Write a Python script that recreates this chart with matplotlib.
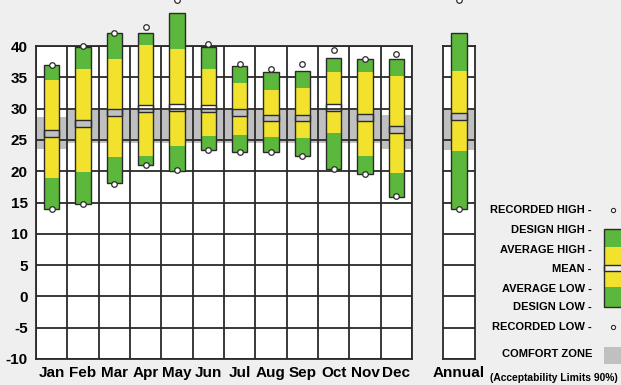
import numpy as np
import matplotlib
matplotlib.use("Agg")
import matplotlib.pyplot as plt
from matplotlib.patches import Rectangle

plt.rcParams['font.family'] = ['Liberation Sans', 'DejaVu Sans']
plt.rcParams['font.weight'] = 'bold'

months = ['Jan', 'Feb', 'Mar', 'Apr', 'May', 'Jun', 'Jul', 'Aug', 'Sep', 'Oct', 'Nov', 'Dec']

# monthly values, deg C (last entry of each list = Annual)
recorded_high = [37.0, 40.0, 42.0, 43.1, 47.4, 40.3, 37.2, 36.3, 37.1, 39.4, 38.0, 38.8, 47.4]
design_high = [37.0, 39.9, 42.0, 42.0, 45.2, 39.8, 36.8, 35.9, 36.0, 38.1, 37.9, 37.9, 42.0]
average_high = [34.5, 36.3, 38.0, 40.2, 39.5, 36.4, 34.1, 33.0, 33.3, 35.9, 35.9, 35.2, 36.0]
mean = [26.0, 27.6, 29.4, 30.0, 30.2, 30.0, 29.4, 28.5, 28.5, 30.2, 28.6, 26.6, 28.8]
average_low = [18.9, 19.9, 22.2, 22.5, 24.1, 25.6, 25.8, 25.4, 25.3, 26.1, 22.4, 19.7, 23.2]
design_low = [13.9, 14.8, 18.1, 21.0, 20.1, 23.4, 23.0, 23.0, 22.4, 20.3, 19.6, 15.9, 13.9]
recorded_low = [14.0, 14.8, 18.0, 21.0, 20.2, 23.4, 23.0, 23.0, 22.4, 20.3, 19.6, 16.0, 14.0]

# comfort zone (acceptability limits 90%)
comfort_high = [28.7, 29.8, 29.8, 29.8, 29.8, 29.8, 29.8, 29.8, 29.8, 29.8, 29.8, 28.9, 30.0]
comfort_low = [23.6, 24.5, 24.5, 24.5, 24.5, 24.5, 24.5, 24.5, 24.5, 24.5, 24.5, 23.5, 23.4]

GREEN = '#5cb83c'
YELLOW = '#f2e22e'
ZONE = '#c0c0c0'
BG = '#efefef'
EDGE = '#2a2a2a'
W = 621
H = 385

fig = plt.figure(figsize=(W / 100, H / 100), dpi=100, facecolor=BG)


def px(x, y):
    return x / W, 1 - y / H


def draw_panel(ax, xs, idx):
    ax.set_facecolor('white')
    ax.set_ylim(-10, 40)
    ax.set_yticks(range(-10, 41, 5))
    ax.grid(axis='y', color=EDGE, lw=1.3, zorder=2)
    ax.set_axisbelow(False)
    for s in ax.spines.values():
        s.set_color(EDGE)
        s.set_linewidth(1.3)
    ax.tick_params(length=0)
    bw = 0.48
    gap = 0.55
    for x, i in zip(xs, idx):
        ax.bar(x, comfort_high[i] - comfort_low[i], bottom=comfort_low[i], width=1.0,
               color=ZONE, lw=0, zorder=1)
        ax.bar(x, average_low[i] - design_low[i], bottom=design_low[i], width=bw,
               color=GREEN, lw=0, zorder=3, clip_on=False)
        ax.bar(x, design_high[i] - average_high[i], bottom=average_high[i], width=bw,
               color=GREEN, lw=0, zorder=3, clip_on=False)
        ax.bar(x, mean[i] - gap - average_low[i], bottom=average_low[i], width=bw,
               color=YELLOW, lw=0, zorder=3, clip_on=False)
        ax.bar(x, average_high[i] - mean[i] - gap, bottom=mean[i] + gap, width=bw,
               color=YELLOW, lw=0, zorder=3, clip_on=False)
        ax.bar(x, 2 * gap, bottom=mean[i] - gap, width=bw, fill=False,
               edgecolor=EDGE, lw=1.0, zorder=4, clip_on=False)
        ax.bar(x, design_high[i] - design_low[i], bottom=design_low[i], width=bw, fill=False,
               edgecolor=EDGE, lw=1.0, zorder=4, clip_on=False)
    hi = [recorded_high[i] for i in idx]
    lo = [recorded_low[i] for i in idx]
    ax.scatter(xs, hi, s=16, facecolor='white', edgecolor=EDGE, lw=0.9, zorder=6, clip_on=False)
    ax.scatter(xs, lo, s=16, facecolor='white', edgecolor=EDGE, lw=0.9, zorder=6, clip_on=False)


# monthly panel
ax = fig.add_axes([36 / W, 26 / H, 376 / W, 313 / H])
xs = np.arange(12) + 0.5
draw_panel(ax, xs, range(12))
ax.set_xlim(0, 12)
ax.set_xticks(range(13))
ax.set_xticklabels([])
ax.grid(axis='x', color=EDGE, lw=1.3, zorder=2)
ax.set_xticks(xs, minor=True)
ax.set_xticklabels(months, minor=True, fontsize=11, fontweight='bold')
ax.tick_params(which='both', length=0)
ax.tick_params(axis='x', which='minor', pad=5)
ax.set_yticklabels([str(v) for v in range(-10, 41, 5)], fontsize=11, fontweight='bold')
ax.tick_params(axis='y', pad=6)

# annual panel
ax2 = fig.add_axes([443 / W, 26 / H, 32 / W, 313 / H])
draw_panel(ax2, [0.5], [12])
ax2.set_xlim(0, 1)
ax2.set_xticks([0.5])
ax2.set_xticklabels(['Annual'], fontsize=11, fontweight='bold')
ax2.tick_params(axis='x', pad=5)
ax2.set_yticklabels([])

# legend
labels = ['RECORDED HIGH -', 'DESIGN HIGH -', 'AVERAGE HIGH -', 'MEAN -',
          'AVERAGE LOW -', 'DESIGN LOW -', 'RECORDED LOW -']
rows = [210, 230, 250, 269, 289, 307, 327]
for lab, r in zip(labels, rows):
    fig.text(*px(592, r), lab, ha='right', va='center', fontsize=8, fontweight='bold')
fig.text(*px(592, 354), 'COMFORT ZONE', ha='right', va='center', fontsize=8, fontweight='bold')
fig.text(*px(490, 378), '(Acceptability Limits 90%)', ha='left', va='center',
         fontsize=7.4, fontweight='bold')

segs = [(229.3, 247.3, GREEN), (247.3, 265.0, YELLOW), (270.7, 286.7, YELLOW), (286.7, 306.7, GREEN)]
for top, bot, c in segs:
    x0, y0 = px(604, bot)
    fig.patches.append(Rectangle((x0, y0), 40 / W, (bot - top) / H, transform=fig.transFigure,
                                 facecolor=c, lw=0))
for top, bot in [(265.0, 270.7), (229.3, 306.7)]:
    x0, y0 = px(604, bot)
    fig.patches.append(Rectangle((x0, y0), 40 / W, (bot - top) / H, transform=fig.transFigure,
                                 fill=False, edgecolor=EDGE, lw=1.0))
x0, y0 = px(604, 364)
fig.patches.append(Rectangle((x0, y0), 40 / W, 17.3 / H, transform=fig.transFigure,
                             facecolor=ZONE, lw=0))
for r in [210, 327]:
    fig.lines.append(plt.Line2D([613 / W], [1 - r / H], transform=fig.transFigure, marker='o',
                                ms=3, mfc='white', mec=EDGE, mew=0.8))

fig.savefig('out.png', dpi=100, facecolor=BG)
